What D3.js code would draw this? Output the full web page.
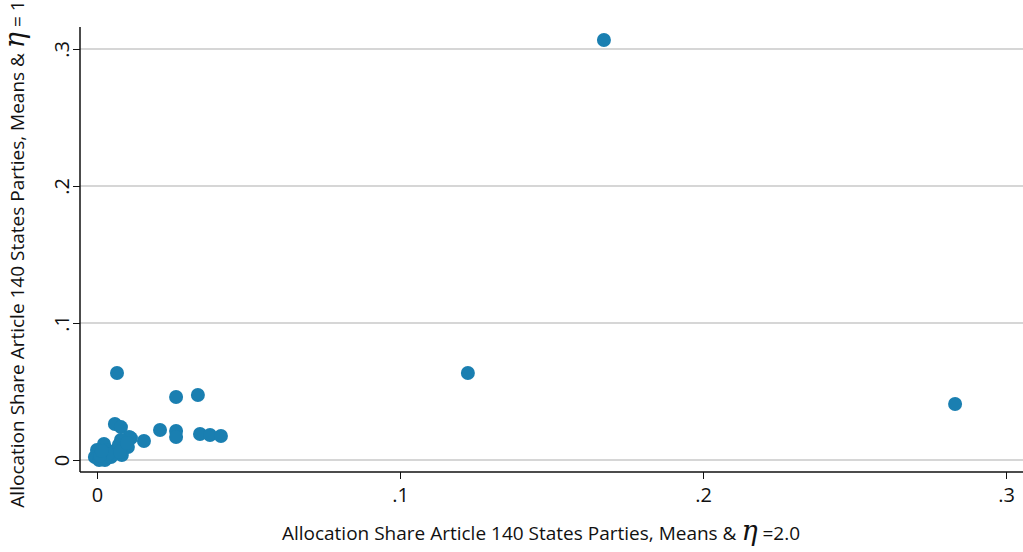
<!DOCTYPE html>
<html><head><meta charset="utf-8">
<script src="https://cdn.jsdelivr.net/npm/d3@7"></script>
<style>body{margin:0;background:#fff}svg{display:block}text{font-family:"Open Sans","DejaVu Sans",sans-serif;fill:#111}</style>
</head><body>
<svg id="c" width="1023" height="552"></svg>
<script>
const xVals = [0.1673,0.1224,0.2832,0.0066,0.0261,0.0333,0.0208,0.0261,0.0261,0.0340,0.0373,0.0409,0.0155,0.0112,0.0059,0.0079,0.0106,0.0079,0.0102,0.0023,0.0033,0.0000,-0.0007,0.0007,0.0026,0.0059,0.0072,0.0089,0.0082,0.0046,0.0036,0.0010,0.0016,0.0076,0.0099];
const yVals = [0.3066,0.0635,0.0409,0.0635,0.0460,0.0474,0.0219,0.0212,0.0168,0.0190,0.0182,0.0175,0.0139,0.0160,0.0263,0.0240,0.0168,0.0146,0.0095,0.0117,0.0073,0.0073,0.0022,0.0000,0.0000,0.0058,0.0110,0.0088,0.0036,0.0022,0.0044,0.0030,0.0066,0.0058,0.0124];
const xTicks = [0, 0.1, 0.2, 0.3];
const yTicks = [0, 0.1, 0.2, 0.3];
const tickLabels = ["0", ".1", ".2", ".3"];

(function(){
const svg = d3.select("#c");
const x = d3.scaleLinear().domain([0, 0.3]).range([97, 1006]);
const y = d3.scaleLinear().domain([0, 0.3]).range([460, 49]);
const pl = 80, pr = 1023, pb = 472, pt = 27;

svg.append("g").selectAll("line").data(yTicks).join("line")
  .attr("x1", pl).attr("x2", pr)
  .attr("y1", d => y(d)).attr("y2", d => y(d))
  .attr("stroke", "#c8c8c8").attr("stroke-width", 1.3);

svg.append("g").selectAll("circle").data(xVals.map((v,i)=>[v,yVals[i]])).join("circle")
  .attr("cx", d => x(d[0])).attr("cy", d => y(d[1])).attr("r", 7)
  .attr("fill", "#1a7fb1");

const xAxis = svg.append("g").attr("transform", `translate(0,${pb})`)
  .call(d3.axisBottom(x).tickValues(xTicks).tickFormat((d,i)=>tickLabels[i]).tickSize(7).tickSizeOuter(0).tickPadding(9));
xAxis.select(".domain").remove();
xAxis.append("line").attr("x1", pl).attr("x2", pr).attr("stroke", "#111").attr("stroke-width", 1.5);
xAxis.selectAll(".tick line").attr("stroke", "#111");
xAxis.selectAll(".tick text").style("font-size", "20px").attr("fill", "#111");

const yAxis = svg.append("g").attr("transform", `translate(${pl},0)`)
  .call(d3.axisLeft(y).tickValues(yTicks).tickFormat((d,i)=>tickLabels[i]).tickSize(7).tickSizeOuter(0).tickPadding(6));
yAxis.select(".domain").remove();
yAxis.append("line").attr("y1", pt).attr("y2", pb).attr("stroke", "#111").attr("stroke-width", 1.5);
yAxis.selectAll(".tick line").attr("stroke", "#111");
yAxis.selectAll(".tick text").style("font-size", "20px").attr("fill", "#111")
  .attr("transform", "rotate(-90)").attr("x", 0).attr("y", -11).attr("dy", "0")
  .attr("text-anchor", "middle");

const xt = svg.append("text").attr("x", 541).attr("y", 540).attr("text-anchor", "middle").style("font-size", "19px");
xt.append("tspan").text("Allocation Share Article 140 States Parties, Means & ");
xt.append("tspan").text("η").style("font-style", "italic").style("font-size", "27px").attr("font-family", "DejaVu Serif");
xt.append("tspan").text(" =2.0");

const yt = svg.append("text").attr("transform", "translate(24,254) rotate(-90)").attr("text-anchor", "middle").style("font-size", "19px");
yt.append("tspan").text("Allocation Share Article 140 States Parties, Means & ");
yt.append("tspan").text("η").style("font-style", "italic").style("font-size", "27px").attr("font-family", "DejaVu Serif");
yt.append("tspan").text(" = 1");
})();
</script>
</body></html>
